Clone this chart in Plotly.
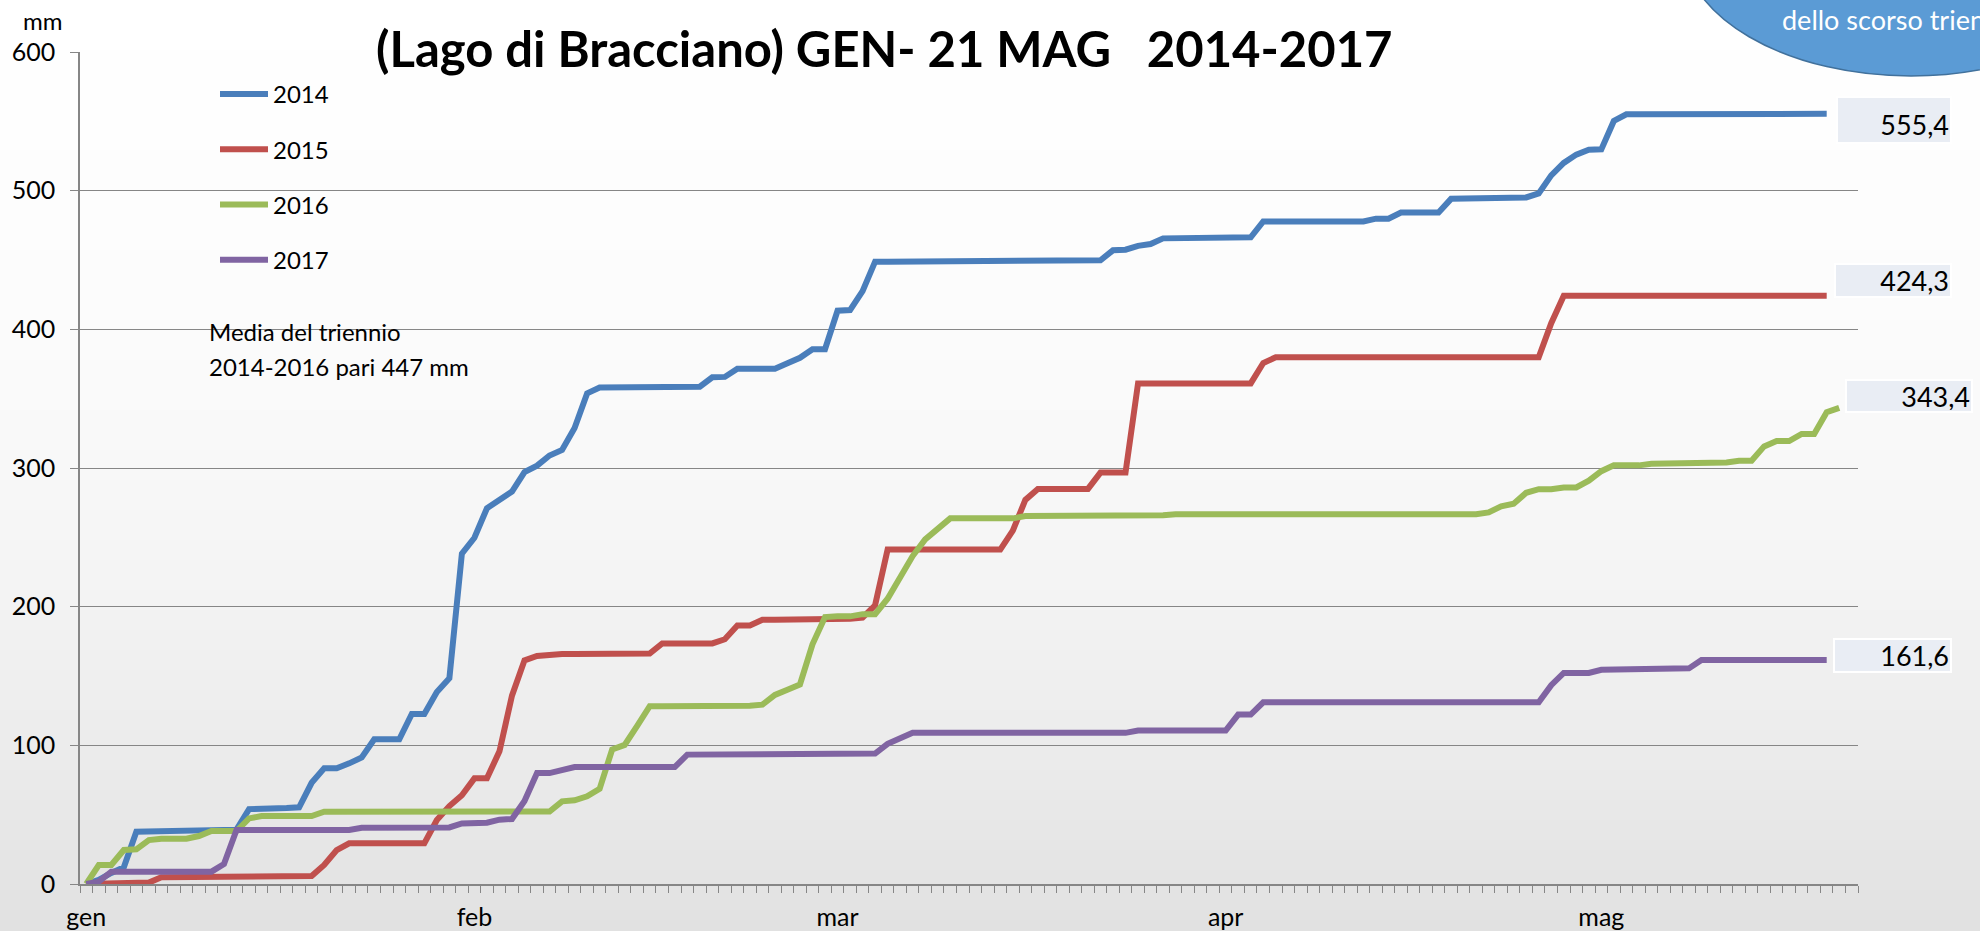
import plotly.graph_objects as go

# pioggia cumulata (mm) giorno per giorno dal 1 gennaio
giorni = list(range(142))  # 1 gen .. 21 mag
mesi = ["gen", "feb", "mar", "apr", "mag"]
inizio_mese = [0, 31, 60, 91, 121]

anni = ["2014", "2015", "2016", "2017"]

pioggia_2014 = [
    0, 3, 8, 12, 37.7, 37.8, 37.9, 38, 38, 38.2,
    38.4, 38.6, 39.2, 54, 54, 54.2, 54.8, 55.3, 73, 83.4,
    83.4, 87, 91.3, 104.4, 104.4, 104.4, 122.6, 122.6, 138.5, 148.4,
    238.3, 249.7, 271, 277, 283, 297, 301.7, 309, 313, 328.8,
    353.8, 358, 358.2, 358.3, 358.3, 358.3, 358.3, 358.4, 358.5, 358.6,
    365.4, 365.7, 371.6, 371.6, 371.6, 371.6, 375.5, 379.5, 385.7, 385.7,
    413.4, 413.9, 427.6, 448.8, 448.8, 448.8, 448.8, 448.8, 448.8, 448.8,
    448.8, 448.8, 448.8, 448.8, 448.8, 448.8, 448.8, 448.8, 448.8, 448.9,
    449.3, 449.8, 457, 457.4, 460.2, 461.5, 465.6, 465.8, 466, 466,
    466.1, 466.2, 466.3, 466.4, 477.8, 477.8, 477.8, 477.8, 477.8, 477.8,
    477.8, 477.8, 477.8, 479.8, 479.8, 484.3, 484.3, 484.3, 484.3, 494.1,
    494.3, 494.5, 494.6, 494.8, 494.9, 495.1, 498, 511, 520, 526,
    529.5, 529.8, 550.3, 555.1, 555.1, 555.1, 555.1, 555.1, 555.1, 555.1,
    555.1, 555.1, 555.1, 555.4, 555.4, 555.4, 555.4, 555.4, 555.4, 555.4,
]

pioggia_2015 = [
    0, 0.2, 0.4, 0.6, 0.8, 1, 4.8, 4.9, 5, 5.1,
    5.3, 5.4, 5.5, 5.6, 5.7, 5.8, 5.8, 5.8, 5.8, 13.7,
    24.5, 29.3, 29.3, 29.3, 29.3, 29.3, 29.3, 29.3, 46.1, 56.2,
    64, 76.2, 76.2, 95.7, 135.8, 161.3, 164.5, 165.6, 165.8, 165.8,
    165.9, 165.9, 166, 166, 166.1, 166.2, 173.5, 173.5, 173.5, 173.5,
    173.5, 176.5, 186.5, 186.5, 190.6, 190.6, 190.6, 190.6, 190.6, 190.6,
    190.6, 191.2, 192.1, 201, 241.2, 241.2, 241.2, 241.2, 241.2, 241.2,
    241.2, 241.2, 241.2, 241.2, 254.8, 277, 284.9, 284.9, 284.9, 284.9,
    284.9, 296.7, 296.7, 296.7, 361, 361, 361, 361, 361, 361,
    361, 361, 361, 361, 375.7, 379.9, 379.9, 379.9, 379.9, 379.9,
    379.9, 379.9, 379.9, 379.9, 379.9, 379.9, 379.9, 379.9, 379.9, 379.9,
    379.9, 379.9, 379.9, 379.9, 379.9, 379.9, 379.9, 404.4, 424.3, 424.3,
    424.3, 424.3, 424.3, 424.3, 424.3, 424.3, 424.3, 424.3, 424.3, 424.3,
    424.3, 424.3, 424.3, 424.3, 424.3, 424.3, 424.3, 424.3, 424.3, 424.3,
]

pioggia_2016 = [
    0, 13.7, 13.7, 24.5, 25, 31.7, 32.7, 32.7, 32.7, 34.6,
    38.2, 38.2, 38.2, 47.3, 49, 49, 49, 49, 49, 52.1,
    52.1, 52.1, 52.1, 52.2, 52.2, 52.2, 52.2, 52.2, 52.2, 52.2,
    52.2, 52.2, 52.3, 52.3, 52.3, 52.3, 52.3, 52.3, 59.6, 60.4,
    63.2, 68.6, 97, 100.3, 114, 128.2, 128.2, 128.2, 128.2, 128.2,
    128.2, 128.2, 128.2, 128.6, 129.3, 136.4, 140.1, 143.9, 172.9, 192.5,
    193, 193, 194.6, 194.6, 205.7, 220.6, 236.5, 248.5, 255.5, 263.7,
    263.7, 263.7, 263.7, 263.7, 263.7, 265.3, 265.3, 265.3, 265.3, 265.3,
    265.3, 266, 266, 266, 266, 266, 266, 266.6, 266.6, 266.6,
    266.6, 266.6, 266.6, 266.6, 266.6, 266.6, 266.6, 266.6, 266.6, 266.6,
    266.6, 266.6, 266.6, 266.6, 266.6, 266.6, 266.6, 266.6, 266.6, 266.6,
    266.6, 266.6, 268, 272.3, 274.2, 282.1, 284.7, 284.7, 286, 286,
    290.9, 297.7, 301.9, 301.9, 301.9, 303, 303, 303, 303, 303,
    303, 304, 305.2, 305.2, 315.6, 319.4, 319.4, 324.6, 324.6, 340.2,
    343.4,
]

pioggia_2017 = [
    0, 1.7, 8.9, 8.9, 8.9, 8.9, 8.9, 8.9, 8.9, 8.9,
    8.9, 14.4, 38.9, 38.9, 38.9, 38.9, 38.9, 38.9, 38.9, 38.9,
    38.9, 38.9, 40.6, 40.6, 40.6, 40.6, 40.6, 40.6, 40.6, 40.8,
    43.7, 44, 44.2, 46.4, 46.9, 59.9, 80, 80, 82.7, 84.3,
    84.3, 84.3, 84.3, 84.3, 84.3, 84.3, 84.3, 84.3, 93.3, 93.3,
    93.3, 93.3, 93.3, 93.3, 93.3, 93.3, 93.3, 93.3, 93.3, 93.3,
    93.3, 93.3, 93.3, 94.1, 101.1, 105, 109, 109, 109, 109,
    109, 109, 109, 109, 109, 109, 109, 109, 109, 109,
    109, 109, 109, 109, 110.7, 110.7, 110.7, 110.7, 110.7, 110.7,
    110.7, 110.7, 122.2, 122.2, 131, 131, 131, 131, 131, 131,
    131, 131, 131, 131, 131, 131, 131, 131, 131, 131,
    131, 131, 131, 131, 131, 131, 131, 143.4, 152.2, 152.2,
    152.2, 154.5, 154.5, 154.5, 154.5, 155.2, 155.2, 155.2, 155.5, 161.6,
    161.6, 161.6, 161.6, 161.6, 161.6, 161.6, 161.6, 161.6, 161.6, 161.6,
]

serie = [pioggia_2014, pioggia_2015, pioggia_2016, pioggia_2017]
colori = ["#4A7EBB", "#C0504D", "#9BBB59", "#8064A2"]

W, H = 1980, 931
L, R, T, B = 80, 1858, 52, 884
FONT = "Lato, 'Open Sans', sans-serif"


def px_x(p):
    return (p - L) / (R - L)


def px_y(p):
    return (B - p) / (B - T)


fig = go.Figure()
for anno, valori, colore in zip(anni, serie, colori):
    fig.add_trace(go.Scatter(
        x=giorni[:len(valori)], y=valori, mode="lines", name=anno,
        legendgroup=anno, line=dict(color=colore, width=6)))

# sfondo sfumato bianco -> grigio
shapes = []
stops = [(0, 255), (300, 252), (470, 248), (600, 243), (745, 236), (931, 225)]
step = 10
for y0 in range(0, H, step):
    yc = y0 + step / 2
    for (a, ga), (b, gb) in zip(stops[:-1], stops[1:]):
        if a <= yc <= b:
            g = round(ga + (gb - ga) * (yc - a) / (b - a))
            break
    shapes.append(dict(type="rect", xref="paper", yref="paper", layer="below",
                       x0=px_x(-5), x1=px_x(W + 5), y0=px_y(y0 + step + 0.5), y1=px_y(y0),
                       fillcolor=f"rgb({g},{g},{g})", line=dict(width=0)))

# ellisse in alto a destra
shapes.append(dict(type="circle", xref="paper", yref="paper", layer="above",
                   x0=px_x(1682), x1=px_x(2140), y0=px_y(76), y1=px_y(-192),
                   fillcolor="#5B9BD5", line=dict(color="#41719C", width=1.5)))

annotations = [
    dict(text="<b>(Lago di Bracciano) GEN- 21 MAG\u00a0\u00a0\u00a02014-2017</b>",
         x=px_x(884), y=px_y(48), xref="paper", yref="paper",
         xanchor="center", yanchor="middle", showarrow=False,
         font=dict(family=FONT, size=49, color="black")),
    dict(text="mm", x=px_x(42), y=px_y(21), xref="paper", yref="paper",
         xanchor="center", yanchor="middle",
         showarrow=False, font=dict(family=FONT, size=24, color="black")),
    dict(text="Media del triennio", x=px_x(207), y=px_y(331),
         xref="paper", yref="paper", xanchor="left", yanchor="middle",
         showarrow=False, font=dict(family=FONT, size=24, color="black")),
    dict(text="2014-2016 pari 447 mm", x=px_x(207), y=px_y(366),
         xref="paper", yref="paper", xanchor="left", yanchor="middle",
         showarrow=False, font=dict(family=FONT, size=24, color="black")),
    dict(text="dello scorso triennio", x=px_x(1780), y=px_y(19),
         xref="paper", yref="paper", xanchor="left", yanchor="middle",
         showarrow=False, font=dict(family=FONT, size=27, color="white")),
]

# etichette valore finale
box_left = [1836, 1834, 1845, 1833]
box_w = [116, 118, 128, 119]
box_h = [48, 35, 34, 35]
box_cy = [120, 280, 396, 655]
for i, valori in enumerate(serie):
    testo = f"{valori[-1]:.1f}".replace(".", ",")
    annotations.append(dict(
        text=testo, x=px_x(box_left[i]), y=px_y(box_cy[i]), xref="paper", yref="paper",
        xanchor="left", yanchor="middle", showarrow=False,
        width=box_w[i] - 6, height=box_h[i] - 6, align="right",
        valign="bottom" if i == 0 else "middle",
        bgcolor="#E9EDF4", bordercolor="white", borderwidth=2, borderpad=1,
        font=dict(family=FONT, size=27, color="black")))

fig.update_layout(
    template="none",
    width=W, height=H,
    margin=dict(l=L, r=W - R, t=T, b=H - B, pad=0),
    paper_bgcolor="white", plot_bgcolor="rgba(0,0,0,0)",
    font=dict(family=FONT, size=24, color="black"),
    shapes=shapes, annotations=annotations,
    showlegend=True,
    legend=dict(x=px_x(215), y=px_y(72), xanchor="left", yanchor="top",
                bgcolor="rgba(0,0,0,0)", font=dict(family=FONT, size=24),
                tracegroupgap=21, itemwidth=48),
    xaxis=dict(range=[-0.5, 141.5], tickmode="array", tickvals=inizio_mese,
               ticktext=mesi, ticks="outside", ticklen=10,
               tickcolor="rgba(0,0,0,0)", showline=True, linecolor="#868686",
               linewidth=1.5, showgrid=False, zeroline=False, automargin=False,
               tickfont=dict(family=FONT, size=25, color="black"),
               minor=dict(tickmode="linear", tick0=-0.5, dtick=1,
                          ticks="outside", ticklen=7, tickcolor="#868686",
                          tickwidth=1, showgrid=False)),
    yaxis=dict(range=[0, 600], dtick=100, ticks="outside", ticklen=8,
               tickcolor="#868686", gridcolor="#868686", gridwidth=1.3,
               showline=True, linecolor="#868686", linewidth=1.5,
               zeroline=False, automargin=False, ticklabelstandoff=10,
               tickfont=dict(family=FONT, size=25, color="black")),
)

# la pagina senza margine, cosi il grafico parte dall'angolo
fig.write_html("out.html", config={"displayModeBar": False},
               post_script="document.body.style.margin='0px';")
